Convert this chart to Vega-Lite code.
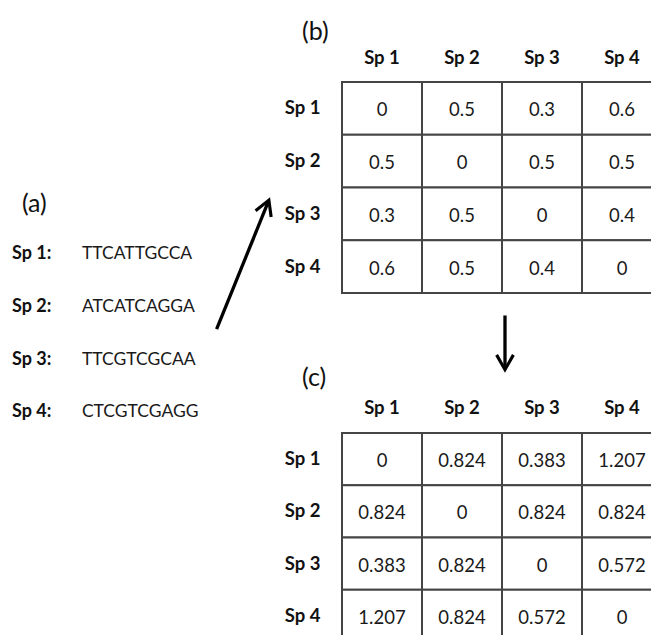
{
  "$schema": "https://vega.github.io/schema/vega-lite/v6.json",
  "padding": {"left": 0, "top": 20, "right": 0, "bottom": 0},
  "background": "white",
  "config": {
    "view": {"stroke": null},
    "font": "Lato",
    "title": {"font": "Lato", "fontWeight": "normal", "color": "#111111"}
  },
  "datasets": {
    "sequences": [
      {"k": 1, "label": "Sp 1:", "seq": "TTCATTGCCA"},
      {"k": 2, "label": "Sp 2:", "seq": "ATCATCAGGA"},
      {"k": 3, "label": "Sp 3:", "seq": "TTCGTCGCAA"},
      {"k": 4, "label": "Sp 4:", "seq": "CTCGTCGAGG"}
    ],
    "arrows": [
      {"arrow": "(a) to (b)", "x": 0.722, "y": 2.426, "x2": 0.895, "y2": 0.005},
      {"arrow": "(b) to (c)", "x": 1.6833, "y": 2.167, "x2": 1.6833, "y2": 3.17}
    ],
    "pdist": [
      {"row": "Sp 1", "col": "Sp 1", "d": 0}, {"row": "Sp 1", "col": "Sp 2", "d": 0.5}, {"row": "Sp 1", "col": "Sp 3", "d": 0.3}, {"row": "Sp 1", "col": "Sp 4", "d": 0.6},
      {"row": "Sp 2", "col": "Sp 1", "d": 0.5}, {"row": "Sp 2", "col": "Sp 2", "d": 0}, {"row": "Sp 2", "col": "Sp 3", "d": 0.5}, {"row": "Sp 2", "col": "Sp 4", "d": 0.5},
      {"row": "Sp 3", "col": "Sp 1", "d": 0.3}, {"row": "Sp 3", "col": "Sp 2", "d": 0.5}, {"row": "Sp 3", "col": "Sp 3", "d": 0}, {"row": "Sp 3", "col": "Sp 4", "d": 0.4},
      {"row": "Sp 4", "col": "Sp 1", "d": 0.6}, {"row": "Sp 4", "col": "Sp 2", "d": 0.5}, {"row": "Sp 4", "col": "Sp 3", "d": 0.4}, {"row": "Sp 4", "col": "Sp 4", "d": 0}
    ],
    "jcdist": [
      {"row": "Sp 1", "col": "Sp 1", "d": 0}, {"row": "Sp 1", "col": "Sp 2", "d": 0.824}, {"row": "Sp 1", "col": "Sp 3", "d": 0.383}, {"row": "Sp 1", "col": "Sp 4", "d": 1.207},
      {"row": "Sp 2", "col": "Sp 1", "d": 0.824}, {"row": "Sp 2", "col": "Sp 2", "d": 0}, {"row": "Sp 2", "col": "Sp 3", "d": 0.824}, {"row": "Sp 2", "col": "Sp 4", "d": 0.824},
      {"row": "Sp 3", "col": "Sp 1", "d": 0.383}, {"row": "Sp 3", "col": "Sp 2", "d": 0.824}, {"row": "Sp 3", "col": "Sp 3", "d": 0}, {"row": "Sp 3", "col": "Sp 4", "d": 0.572},
      {"row": "Sp 4", "col": "Sp 1", "d": 1.207}, {"row": "Sp 4", "col": "Sp 2", "d": 0.824}, {"row": "Sp 4", "col": "Sp 3", "d": 0.572}, {"row": "Sp 4", "col": "Sp 4", "d": 0}
    ]
  },
  "bounds": "flush",
  "spacing": 42,
  "hconcat": [
    {
      "width": 300,
      "height": 555,
      "layer": [
        {
          "data": {"values": [{"panel": "(a)"}]},
          "mark": {"type": "text", "align": "left", "fontSize": 25, "color": "#111111"},
          "encoding": {
            "x": {"datum": 0.073, "type": "quantitative", "scale": {"domain": [0, 1], "nice": false, "zero": false}, "axis": null},
            "y": {"datum": 0.06, "type": "quantitative", "scale": {"domain": [-2.25, 8.25], "nice": false, "zero": false, "reverse": true}, "axis": null},
            "text": {"field": "panel"}
          }
        },
        {
          "data": {"name": "sequences"},
          "mark": {"type": "text", "align": "left", "fontSize": 18, "fontWeight": "bold", "color": "#111111"},
          "encoding": {
            "x": {"datum": 0.04, "type": "quantitative", "axis": null},
            "y": {"field": "k", "type": "quantitative", "axis": null},
            "text": {"field": "label"}
          }
        },
        {
          "data": {"name": "sequences"},
          "mark": {"type": "text", "align": "left", "fontSize": 17.5, "color": "#1a1a1a"},
          "encoding": {
            "x": {"datum": 0.273, "type": "quantitative", "axis": null},
            "y": {"field": "k", "type": "quantitative", "axis": null},
            "text": {"field": "seq"}
          }
        },
        {
          "data": {"name": "arrows"},
          "mark": {"type": "rule", "strokeWidth": 3.3, "color": "black"},
          "encoding": {
            "x": {"field": "x", "type": "quantitative", "axis": null},
            "y": {"field": "y", "type": "quantitative", "axis": null},
            "x2": {"field": "x2"},
            "y2": {"field": "y2"}
          }
        },
        {
          "data": {"values": [{"arrow": "(a) to (b)", "x": 0.888, "y": 0.102}]},
          "mark": {"type": "point", "shape": "M0,1L-1,-0.75L-0.72,-0.91L0,0.36L0.72,-0.91L1,-0.75Z", "size": 380, "angle": 202, "filled": true, "color": "black", "opacity": 1},
          "encoding": {
            "x": {"field": "x", "type": "quantitative", "axis": null},
            "y": {"field": "y", "type": "quantitative", "axis": null}
          }
        },
        {
          "data": {"values": [{"arrow": "(b) to (c)", "x": 1.6833, "y": 3.066}]},
          "mark": {"type": "point", "shape": "M0,1L-1,-0.75L-0.72,-0.91L0,0.36L0.72,-0.91L1,-0.75Z", "size": 380, "angle": 0, "filled": true, "color": "black", "opacity": 1},
          "encoding": {
            "x": {"field": "x", "type": "quantitative", "axis": null},
            "y": {"field": "y", "type": "quantitative", "axis": null}
          }
        }
      ]
    },
    {
      "bounds": "flush",
      "spacing": 140,
      "vconcat": [
        {
          "width": 320,
          "height": 211,
          "title": {"text": "(b)", "anchor": "start", "frame": "group", "dx": -40, "fontSize": 25, "offset": 3},
          "data": {"name": "pdist"},
          "encoding": {
            "x": {"field": "col", "type": "nominal", "scale": {"paddingInner": 0, "paddingOuter": 0},
                  "axis": {"orient": "top", "title": null, "ticks": false, "tickSize": 0, "domain": false, "labelFontWeight": "bold", "labelFontSize": 18.5, "labelColor": "#111111", "labelPadding": 15, "labelAngle": 0}},
            "y": {"field": "row", "type": "nominal", "scale": {"paddingInner": 0, "paddingOuter": 0},
                  "axis": {"title": null, "ticks": false, "tickSize": 0, "domain": false, "labelFontWeight": "bold", "labelFontSize": 18.5, "labelColor": "#111111", "labelPadding": 22}}
          },
          "layer": [
            {"mark": {"type": "rect", "fill": "white", "stroke": "#454545", "strokeWidth": 2}},
            {"mark": {"type": "text", "fontSize": 18.5, "color": "#1a1a1a", "dy": 2}, "encoding": {"text": {"field": "d", "type": "nominal"}}}
          ]
        },
        {
          "width": 320,
          "height": 209,
          "title": {"text": "(c)", "anchor": "start", "frame": "group", "dx": -40, "fontSize": 25, "offset": 7},
          "data": {"name": "jcdist"},
          "encoding": {
            "x": {"field": "col", "type": "nominal", "scale": {"paddingInner": 0, "paddingOuter": 0},
                  "axis": {"orient": "top", "title": null, "ticks": false, "tickSize": 0, "domain": false, "labelFontWeight": "bold", "labelFontSize": 18.5, "labelColor": "#111111", "labelPadding": 16, "labelAngle": 0}},
            "y": {"field": "row", "type": "nominal", "scale": {"paddingInner": 0, "paddingOuter": 0},
                  "axis": {"title": null, "ticks": false, "tickSize": 0, "domain": false, "labelFontWeight": "bold", "labelFontSize": 18.5, "labelColor": "#111111", "labelPadding": 22}}
          },
          "layer": [
            {"mark": {"type": "rect", "fill": "white", "stroke": "#454545", "strokeWidth": 2}},
            {"mark": {"type": "text", "fontSize": 18.5, "color": "#1a1a1a", "dy": 2}, "encoding": {"text": {"field": "d", "type": "nominal"}}}
          ]
        }
      ]
    }
  ]
}
